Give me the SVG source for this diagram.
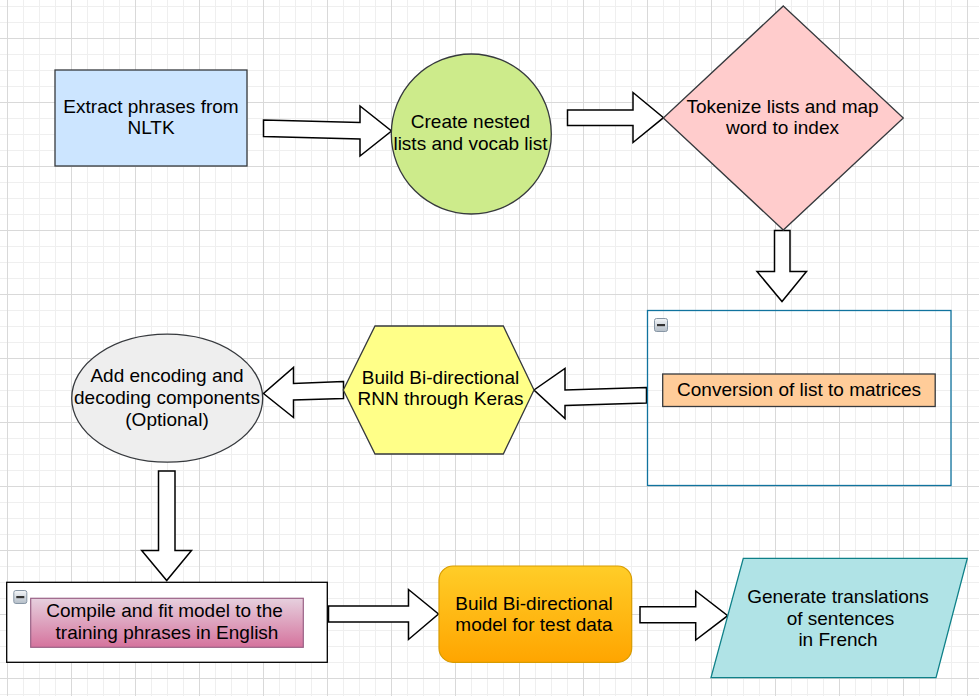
<svg xmlns="http://www.w3.org/2000/svg" width="979" height="696" viewBox="0 0 979 696">
<defs>
<pattern id="grid" x="7" y="-26" width="64" height="64" patternUnits="userSpaceOnUse">
<path d="M16.5 0V64M32.5 0V64M48.5 0V64M0 16.5H64M0 32.5H64M0 48.5H64" stroke="#efefef" stroke-width="1" fill="none"/>
<path d="M0.5 0V64M0 0.5H64" stroke="#d9d9d9" stroke-width="1" fill="none"/>
</pattern>
<linearGradient id="gPink" x1="0" y1="0" x2="0" y2="1"><stop offset="0" stop-color="#e6d0de"/><stop offset="1" stop-color="#d5739d"/></linearGradient>
<linearGradient id="gOrange" x1="0" y1="0" x2="0" y2="1"><stop offset="0" stop-color="#ffcd28"/><stop offset="1" stop-color="#ffa500"/></linearGradient>
<linearGradient id="gIcon" x1="0" y1="0" x2="0" y2="1"><stop offset="0" stop-color="#f4f6f8"/><stop offset="1" stop-color="#b4bec8"/></linearGradient>
<style>
.t{font-family:"Liberation Sans",Arial,Helvetica,sans-serif;font-size:19px;fill:#000;text-anchor:middle}
.n{stroke:#36393d;stroke-width:1.3}
.arrow{fill:#fff;stroke:#000;stroke-width:1.5;stroke-linejoin:miter}
</style>
<g id="minus">
<rect x="0.5" y="0.5" width="13" height="13" rx="2" fill="url(#gIcon)" stroke="#8796a5" stroke-width="1"/>
<rect x="3" y="6" width="8" height="2.2" fill="#333"/>
</g>
</defs>
<rect width="979" height="696" fill="#fff"/>
<rect width="979" height="696" fill="url(#grid)"/>

<g id="connectors">
<polygon class="arrow" points="263.5,120 360,122.5 360,106 391.5,131 360,156 360,139 263.5,136.5"/>
<polygon class="arrow" points="567.5,110 633,110 633,92.5 663.5,117.7 633,142.5 633,125.5 567.5,125.5"/>
<polygon class="arrow" points="774.5,230.5 790,230.5 790,271.5 806.5,271.5 782,301.5 757,271.5 774.5,271.5"/>
<polygon class="arrow" points="646.5,387.5 565,390 565,368.5 534,390 565,418.5 565,405.5 646.5,403"/>
<polygon class="arrow" points="343.5,381.5 293.5,383.5 293.5,367.5 263.5,393.5 293.5,417.5 293.5,400 343.5,398.5"/>
<polygon class="arrow" points="158.5,471 175,471 175,550.5 191.5,550.5 166.7,580.5 141.7,550.5 158.5,550.5"/>
<polygon class="arrow" points="328.5,606 408.5,606 408.5,589.5 438.5,614 408.5,639.5 408.5,622 328.5,622"/>
<polygon class="arrow" points="640,606.7 695.7,606.7 695.7,591 727.7,615.7 695.7,640 695.7,622.7 640,622.7"/>
</g>

<g id="extract">
<rect class="n" x="55" y="70" width="192" height="96" fill="#cce5ff"/>
<text class="t" x="151" y="112.5">Extract phrases from</text>
<text class="t" x="151" y="134">NLTK</text>
</g>

<g id="create">
<circle class="n" cx="471.3" cy="134" r="80" fill="#cdeb8b"/>
<text class="t" x="470.5" y="128">Create nested</text>
<text class="t" x="470.5" y="150">lists and vocab list</text>
</g>

<g id="tokenize">
<polygon class="n" points="783.3,6 903.3,118 783.3,230 663.3,118" fill="#ffcccc"/>
<text class="t" x="782.5" y="112.5">Tokenize lists and map</text>
<text class="t" x="782.5" y="133.5">word to index</text>
</g>

<g id="conversion-group">
<rect x="647.5" y="310.5" width="303.5" height="175" fill="none" stroke="#10739e" stroke-width="1.3"/>
<use href="#minus" x="654" y="318"/>
<rect class="n" x="662.7" y="374" width="272.5" height="32.5" fill="#ffcc99"/>
<text class="t" x="799" y="396">Conversion of list to matrices</text>
</g>

<g id="build-rnn">
<polygon class="n" points="375,326 503.3,326 534,390 503.3,454 375,454 343.3,390" fill="#ffff88"/>
<text class="t" x="440.5" y="384">Build Bi-directional</text>
<text class="t" x="440.5" y="405">RNN through Keras</text>
</g>

<g id="encoding">
<ellipse class="n" cx="167.2" cy="398.2" rx="95.5" ry="64" fill="#eeeeee"/>
<text class="t" x="167" y="382">Add encoding and</text>
<text class="t" x="167" y="403.7">decoding components</text>
<text class="t" x="167" y="425.5">(Optional)</text>
</g>

<g id="compile-group">
<rect x="6.7" y="582.3" width="320.6" height="80" fill="#fff" stroke="#000" stroke-width="1.3"/>
<use href="#minus" x="13.3" y="590"/>
<rect x="30.7" y="598.3" width="272.6" height="49" fill="url(#gPink)" stroke="#996185" stroke-width="1.2"/>
<text class="t" x="164.5" y="617">Compile and fit model to the</text>
<text class="t" x="167" y="638.5">training phrases in English</text>
</g>

<g id="build-model">
<rect x="439" y="566" width="192.7" height="96.3" rx="14" fill="url(#gOrange)" stroke="#d79b00" stroke-width="1.2"/>
<text class="t" x="534" y="609.5">Build Bi-directional</text>
<text class="t" x="534" y="631">model for test data</text>
</g>

<g id="generate">
<polygon points="743.3,558.3 967.3,558.3 936,677.7 711,677.7" fill="#b0e3e6" stroke="#0e8088" stroke-width="1.3"/>
<text class="t" x="838" y="603">Generate translations</text>
<text class="t" x="840.5" y="624.5">of sentences</text>
<text class="t" x="838" y="646">in French</text>
</g>
</svg>
